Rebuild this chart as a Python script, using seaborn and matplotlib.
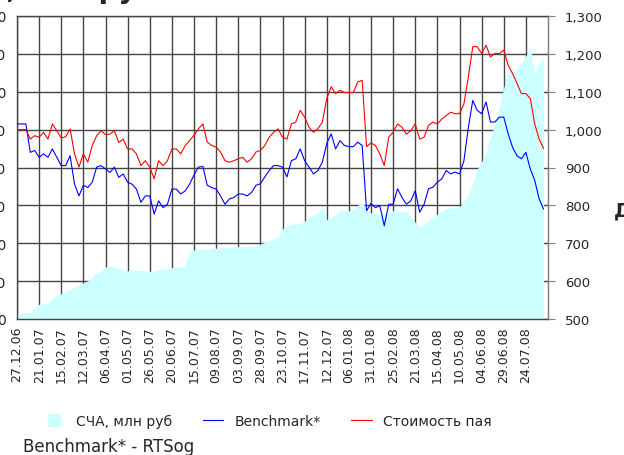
import matplotlib
matplotlib.use("Agg")
import matplotlib.pyplot as plt
import matplotlib.ticker as mticker
from matplotlib.lines import Line2D
import numpy as np
import pandas as pd
import seaborn as sns

# ---------------- data ----------------
start_date = "2006-12-27"
step = "5D"

# Стоимость пая (right axis)
unit_price = [1000, 1000, 1000, 975, 984, 980, 993, 975, 1015, 997,
              978, 981, 1002, 936, 901, 936, 914, 958, 984, 997,
              987, 988, 997, 966, 975, 949, 949, 936, 905, 918,
              901, 870, 918, 905, 918, 949, 949, 936, 958, 971,
              985, 1002, 1015, 967, 958, 954, 941, 918, 914, 918,
              923, 927, 914, 923, 941, 945, 958, 980, 993, 1002,
              980, 975, 1015, 1020, 1051, 1033, 1006, 993, 1002, 1020,
              1082, 1113, 1095, 1104, 1098, 1098, 1098, 1126, 1130, 955,
              965, 958, 936, 905, 980, 993, 1015, 1006, 988, 997,
              1015, 975, 980, 1011, 1020, 1015, 1028, 1037, 1046, 1042,
              1042, 1068, 1139, 1219, 1219, 1201, 1223, 1192, 1201, 1201,
              1210, 1170, 1148, 1122, 1095, 1095, 1082, 1015, 975, 950]

# Benchmark* (right axis)
benchmark = [1015, 1015, 1015, 940, 945, 927, 936, 927, 949, 927,
             905, 905, 931, 856, 825, 853, 847, 861, 901, 905,
             896, 887, 901, 874, 883, 861, 856, 843, 808, 825,
             825, 777, 812, 794, 803, 843, 843, 830, 838, 856,
             880, 901, 903, 853, 847, 843, 825, 803, 817, 821,
             830, 830, 825, 834, 853, 857, 875, 892, 905, 905,
             901, 875, 918, 923, 949, 918, 901, 883, 892, 914,
             963, 989, 949, 971, 958, 955, 955, 967, 958, 786,
             805, 794, 799, 746, 803, 803, 844, 821, 803, 812,
             839, 782, 803, 844, 848, 861, 870, 892, 883, 888,
             883, 918, 1006, 1077, 1051, 1042, 1073, 1020, 1020, 1033,
             1033, 989, 953, 931, 923, 940, 896, 866, 817, 790]

# СЧА, млн руб (left axis)
nav = [14, 15, 17, 18, 30, 39, 41, 43, 55, 63,
       67, 72, 78, 84, 90, 95, 101, 110, 120, 127,
       137, 139, 137, 133, 130, 127, 128, 129, 129, 127,
       126, 126, 130, 132, 134, 136, 137, 138, 141, 180,
       182, 184, 185, 185, 186, 187, 188, 189, 189, 190,
       191, 191, 192, 192, 193, 198, 203, 207, 211, 216,
       238, 245, 251, 251, 253, 258, 269, 273, 280, 295,
       262, 268, 275, 287, 286, 286, 287, 300, 310, 287,
       280, 278, 277, 278, 282, 286, 285, 284, 283, 270,
       255, 242, 250, 259, 270, 277, 285, 291, 293, 295,
       297, 310, 330, 357, 395, 415, 440, 480, 515, 560,
       610, 660, 650, 660, 675, 695, 718, 650, 675, 690]

tick_start = "2006-12-27"
tick_count = 24
tick_step = "25D"
x_end = "2008-08-18"

left_ticks = [0, 100, 200, 300, 400, 500, 600, 700, 800]
right_ticks = [500, 600, 700, 800, 900, 1000, 1100, 1200, 1300]

legend_labels = ["СЧА, млн руб", "Benchmark*", "Стоимость пая"]

# ---------------- figure ----------------
sns.set_style("white")
plt.rcParams["font.family"] = ["DejaVu Sans"]

dates = pd.date_range(start_date, periods=len(nav), freq=step)
df = pd.DataFrame({"date": dates, "nav": nav, "bench": benchmark, "price": unit_price})
ticks = pd.date_range(tick_start, periods=tick_count, freq=tick_step)

fig = plt.figure(figsize=(6.24, 4.56), dpi=100)
W, H = 624, 456
ax = fig.add_axes([17 / W, 1 - 320 / H, (548 - 17) / W, (320 - 17) / H])

grid_col = "#454545"
ax.fill_between(df["date"], df["nav"], 0, color="#ccffff", lw=0, zorder=2)
ax.set_ylim(0, 800)
ax.set_yticks(left_ticks)
ax.set_xlim(pd.Timestamp(tick_start), pd.Timestamp(x_end))
ax.set_xticks(ticks)
ax.set_xticklabels([t.strftime("%d.%m.%y") for t in ticks], rotation=90, fontsize=9)
ax.grid(True, color=grid_col, lw=1.0)
ax.set_axisbelow(True)
ax.tick_params(axis="y", length=0, pad=8, labelsize=10)
ax.tick_params(axis="x", length=0, pad=5)
for s in ax.spines.values():
    s.set_color(grid_col)
    s.set_linewidth(1.0)
ax.spines["right"].set_color("#808080")

ax2 = ax.twinx()
sns.lineplot(data=df, x="date", y="bench", ax=ax2, color="#0000ff", lw=0.8)
sns.lineplot(data=df, x="date", y="price", ax=ax2, color="#ff0000", lw=0.8)
ax2.set_ylim(500, 1300)
ax2.set_yticks(right_ticks)
ax2.yaxis.set_major_formatter(mticker.FuncFormatter(lambda v, p: f"{v:,.0f}"))
ax2.tick_params(axis="y", length=5, color="#808080", pad=7, labelsize=9.5)
ax2.set_ylabel("")
ax.set_xlabel("")
ax.set_ylabel("")
for s in ax2.spines.values():
    s.set_visible(False)
ax2.spines["right"].set_visible(True)
ax2.spines["right"].set_color("#808080")

handles = [Line2D([], [], marker="s", ls="", markersize=9, color="#ccffff"),
           Line2D([], [], color="#0000ff", lw=0.8),
           Line2D([], [], color="#ff0000", lw=0.8)]
fig.legend(handles, legend_labels, loc="center left", bbox_to_anchor=(44 / W, 1 - 422 / H),
           ncol=3, frameon=False, fontsize=10, handlelength=1.5, handletextpad=0.8,
           columnspacing=2.2, borderpad=0, borderaxespad=0)

fig.text(23 / W, 1 - 447 / H, "Benchmark* - RTSog", fontsize=12, va="center")
# partly visible title at the top edge (only its lower part is in the frame)
fig.text(-58 / W, 1 + 2 / H, "СЧА, млн руб", fontsize=20, fontweight="bold", va="baseline")
fig.text(614 / W, 1 - 216 / H, "Д", fontsize=14, fontweight="bold", va="baseline")

fig.savefig("out.png", dpi=100)
